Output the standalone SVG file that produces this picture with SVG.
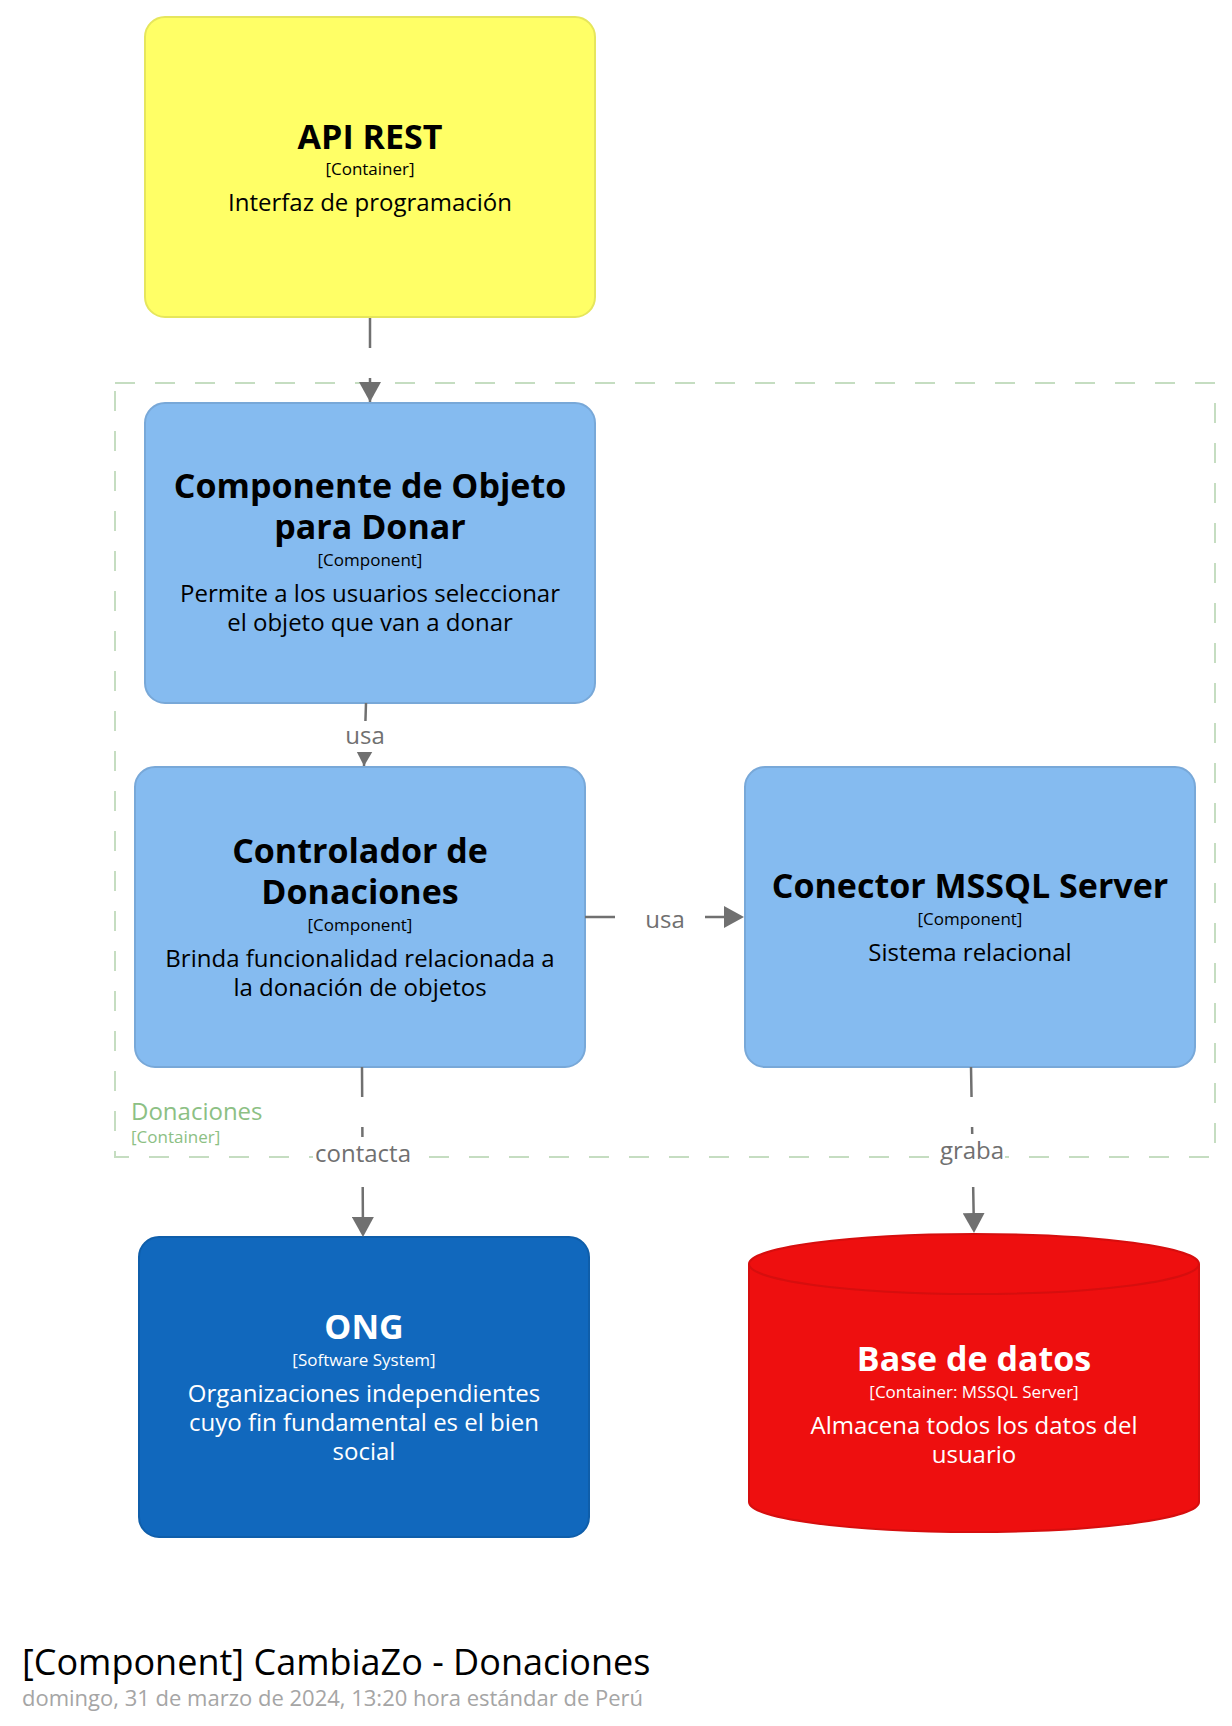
<svg xmlns="http://www.w3.org/2000/svg" width="1232" height="1726" viewBox="0 0 1232 1726">
<style>
text { font-family: "Open Sans", "Noto Sans", "DejaVu Sans", sans-serif; }
.name { font-size: 34px; font-weight: bold; text-anchor: middle; }
.meta { font-size: 17px; text-anchor: middle; }
.desc { font-size: 24px; text-anchor: middle; }
.dark { fill: #000000; }
.light { fill: #ffffff; }
.comp { fill: #85bbf0; stroke: #78a8d8; stroke-width: 2; }
.conn { fill: none; stroke: #707070; stroke-width: 2.5; stroke-dasharray: 30 30; marker-end: url(#arrow); }
.lbl { font-size: 24px; fill: #707070; text-anchor: middle; }
.lblbg { fill: #ffffff; }
</style>
<defs>
<marker id="arrow" viewBox="0 0 20 22" refX="20" refY="11" markerWidth="20" markerHeight="22" markerUnits="userSpaceOnUse" orient="auto">
<path d="M0,0 L20,11 L0,22 Z" fill="#707070"/>
</marker>
</defs>
<rect width="1232" height="1726" fill="#ffffff"/>

<g id="boundary-donaciones">
<rect x="115" y="383" width="1100" height="774" fill="none" stroke="#c5ddc1" stroke-width="2" stroke-dasharray="20 20"/>
<text x="131" y="1120" font-size="24" fill="#8cc084">Donaciones</text>
<text x="131" y="1143" font-size="17" fill="#8cc084">[Container]</text>
</g>

<g id="node-api-rest">
<rect x="145" y="17" width="450" height="300" rx="20" fill="#ffff66" stroke="#e6e65c" stroke-width="2"/>
<text class="name dark" x="370" y="149">API REST</text>
<text class="meta dark" x="370" y="175">[Container]</text>
<text class="desc dark" x="370" y="211">Interfaz de programación</text>
</g>

<g id="node-componente">
<rect class="comp" x="145" y="403" width="450" height="300" rx="20"/>
<text class="name dark" x="370" y="498">Componente de Objeto</text>
<text class="name dark" x="370" y="539">para Donar</text>
<text class="meta dark" x="370" y="566">[Component]</text>
<text class="desc dark" x="370" y="602">Permite a los usuarios seleccionar</text>
<text class="desc dark" x="370" y="631">el objeto que van a donar</text>
</g>

<g id="node-controlador">
<rect class="comp" x="135" y="767" width="450" height="300" rx="20"/>
<text class="name dark" x="360" y="863">Controlador de</text>
<text class="name dark" x="360" y="904">Donaciones</text>
<text class="meta dark" x="360" y="931">[Component]</text>
<text class="desc dark" x="360" y="967">Brinda funcionalidad relacionada a</text>
<text class="desc dark" x="360" y="996">la donación de objetos</text>
</g>

<g id="node-conector">
<rect class="comp" x="745" y="767" width="450" height="300" rx="20"/>
<text class="name dark" x="970" y="898">Conector MSSQL Server</text>
<text class="meta dark" x="970" y="925">[Component]</text>
<text class="desc dark" x="970" y="961">Sistema relacional</text>
</g>

<g id="node-ong">
<rect x="139" y="1237" width="450" height="300" rx="20" fill="#1168bd" stroke="#0f5eaa" stroke-width="2"/>
<text class="name light" x="364" y="1339">ONG</text>
<text class="meta light" x="364" y="1366">[Software System]</text>
<text class="desc light" x="364" y="1402">Organizaciones independientes</text>
<text class="desc light" x="364" y="1431">cuyo fin fundamental es el bien</text>
<text class="desc light" x="364" y="1460">social</text>
</g>

<g id="node-base-de-datos">
<path d="M749,1264 A225,30 0 0 1 1199,1264 L1199,1502 A225,30 0 0 1 749,1502 Z" fill="#ee0f0f" stroke="#d60e0e" stroke-width="2"/>
<path d="M749,1264 A225,30 0 0 0 1199,1264" fill="none" stroke="#d60e0e" stroke-width="2"/>
<text class="name light" x="974" y="1371">Base de datos</text>
<text class="meta light" x="974" y="1398">[Container: MSSQL Server]</text>
<text class="desc light" x="974" y="1434">Almacena todos los datos del</text>
<text class="desc light" x="974" y="1463">usuario</text>
</g>

<g id="connectors">
<path class="conn" d="M370,318 L370,402"/>

<path class="conn" d="M366,703 L364,766"/>
<rect class="lblbg" x="344" y="721" width="42" height="31"/>
<text class="lbl" x="365" y="744">usa</text>

<path class="conn" d="M585,917 L744,917"/>
<rect class="lblbg" x="644" y="905" width="42" height="31"/>
<text class="lbl" x="665" y="928">usa</text>

<path class="conn" d="M362,1067 L363,1237"/>
<rect class="lblbg" x="313" y="1137" width="100" height="32"/>
<text class="lbl" x="363" y="1162">contacta</text>

<path class="conn" d="M971,1067 L974,1233"/>
<rect class="lblbg" x="939" y="1134" width="66" height="34"/>
<text class="lbl" x="972" y="1159">graba</text>
</g>

<g id="title">
<text x="22" y="1675" font-size="36" fill="#000000">[Component] CambiaZo - Donaciones</text>
<text x="22" y="1706" font-size="22" fill="#a5a5a5">domingo, 31 de marzo de 2024, 13:20 hora estándar de Perú</text>
</g>
</svg>
